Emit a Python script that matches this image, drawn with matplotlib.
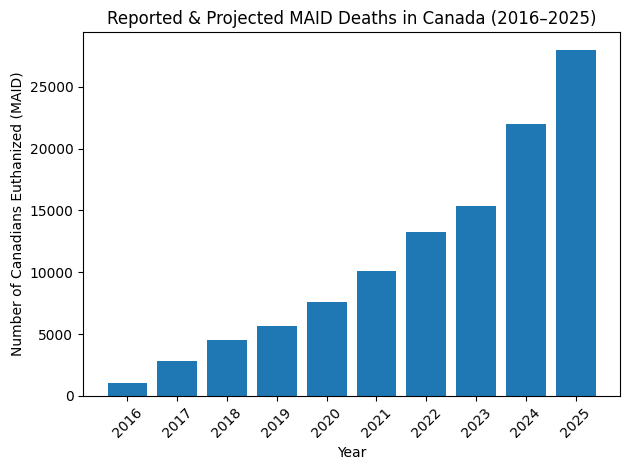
import matplotlib
matplotlib.use("Agg")
import matplotlib.pyplot as plt

years = ["2016", "2017", "2018", "2019", "2020", "2021", "2022", "2023", "2024", "2025"]
deaths = [1018, 2838, 4493, 5631, 7595, 10064, 13241, 15343, 22000, 28000]

fig, ax = plt.subplots(figsize=(6.4, 4.8), dpi=100)
ax.bar(years, deaths, color="#1f77b4")
ax.set_title("Reported & Projected MAID Deaths in Canada (2016\u20132025)")
ax.set_xlabel("Year")
ax.set_ylabel("Number of Canadians Euthanized (MAID)")
plt.xticks(rotation=45)
plt.tight_layout()
plt.savefig("out.png", bbox_inches="tight")
